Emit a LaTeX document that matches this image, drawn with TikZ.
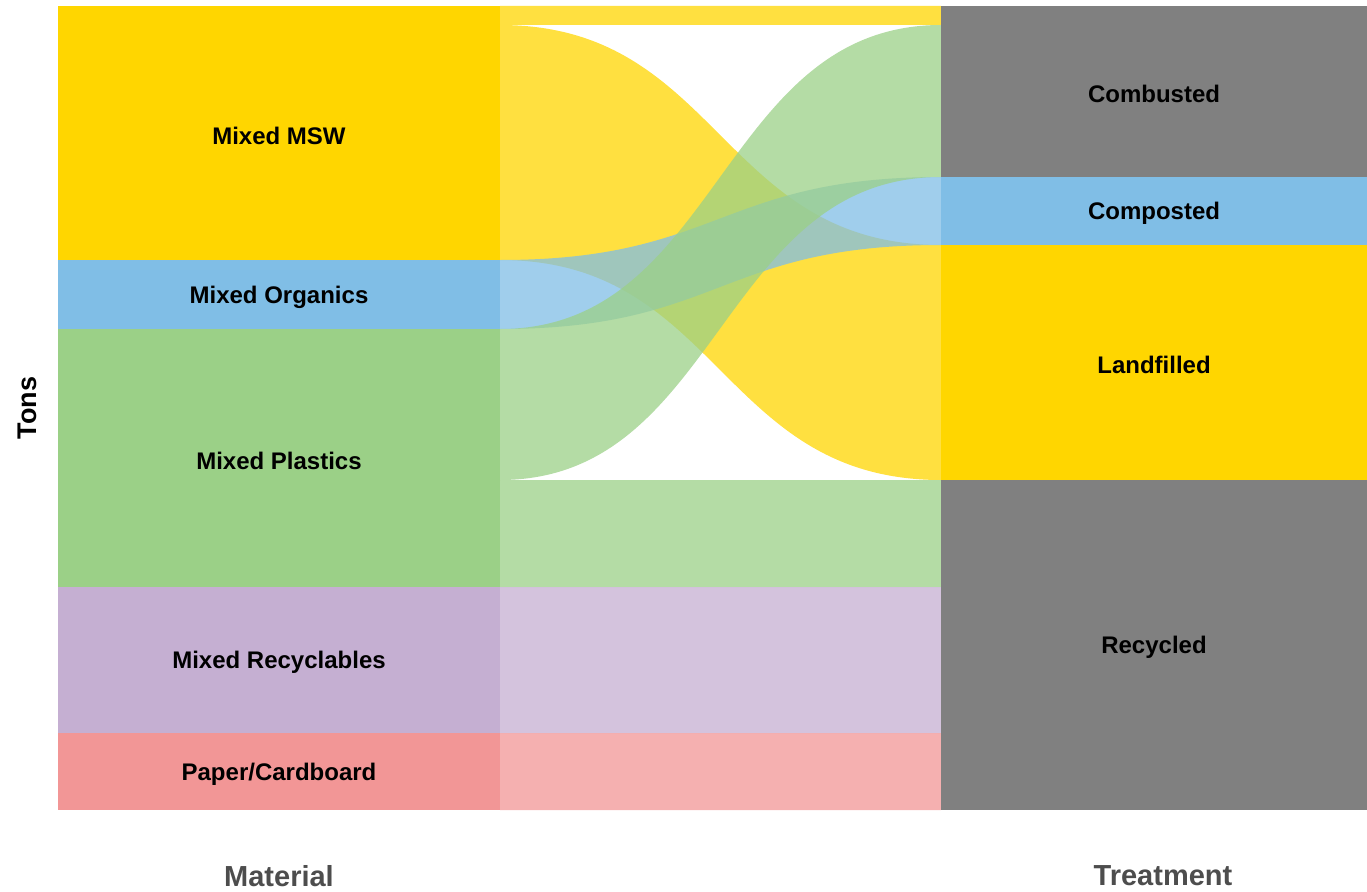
\documentclass[tikz,border=0pt]{standalone}
\usepackage{fontspec}
\setmainfont{Liberation Sans}
\usepackage{tikz}

\definecolor{msw}{RGB}{255,214,0}
\definecolor{organ}{RGB}{128,190,230}
\definecolor{plast}{RGB}{155,208,135}
\definecolor{recyc}{RGB}{197,175,210}
\definecolor{paper}{RGB}{242,150,150}
\definecolor{treat}{RGB}{128,128,128}
\definecolor{axistxt}{RGB}{77,77,77}

\tikzset{
  block/.style={draw=none, inner sep=0pt, minimum width=442pt,
    font=\bfseries\fontsize{24}{28}\selectfont, text=black},
  treatblock/.style={block, minimum width=426pt, fill=treat},
  band/.style={fill opacity=0.75},
  axislabel/.style={font=\bfseries\fontsize{29}{34}\selectfont, text=axistxt}
}

% flow band: colour, left top, left bottom, right top, right bottom
\newcommand{\flowband}[5]{%
  \fill[#1, band] (500,#2) .. controls (720,#2) and (720,#4) .. (941,#4)
    -- (941,#5) .. controls (720,#5) and (720,#3) .. (500,#3) -- cycle;}

\begin{document}
\begin{tikzpicture}[x=1pt, y=-1pt]
        \useasboundingbox (0,0) rectangle (1367,891);

        \flowband{msw}{6}{25}{6}{25}
        \flowband{msw}{25}{260}{245}{480}
        \flowband{organ}{260}{329}{177}{245}
        \flowband{plast}{329}{480}{25}{177}
        \flowband{plast}{480}{587}{480}{587}
        \flowband{recyc}{587}{733}{587}{733}
        \flowband{paper}{733}{810}{733}{810}

        \node[block, fill=msw, minimum height=254pt] (mixmsw) at (279,133) {};
        \node[block, fill=organ, minimum height=69pt] (mixorg) at (279,294.5) {};
        \node[block, fill=plast, minimum height=258pt] (mixpla) at (279,458) {};
        \node[block, fill=recyc, minimum height=146pt] (mixrec) at (279,660) {};
        \node[block, fill=paper, minimum height=77pt] (paper) at (279,771.5) {};

        \node[treatblock, minimum height=171pt] (comb) at (1154,91.5) {};
        \node[block, minimum width=426pt, fill=organ, minimum height=68pt] (comp) at (1154,211) {};
        \node[block, minimum width=426pt, fill=msw, minimum height=235pt] (land) at (1154,362.5) {};
        \node[treatblock, minimum height=330pt] (recy) at (1154,645) {};

        % labels, a little below the block centres
        \node[block, minimum width=0pt, yshift=-2.5pt] at (mixmsw) {Mixed MSW};
        \node[block, minimum width=0pt, yshift=-2.5pt] at (mixorg) {Mixed Organics};
        \node[block, minimum width=0pt, yshift=-2.5pt] at (mixpla) {Mixed Plastics};
        \node[block, minimum width=0pt, yshift=-2.5pt] at (mixrec) {Mixed Recyclables};
        \node[block, minimum width=0pt, yshift=-2.5pt] at (paper) {Paper/Cardboard};
        \node[block, minimum width=0pt, yshift=-2.5pt] at (comb) {Combusted};
        \node[block, minimum width=0pt, yshift=-2.5pt] at (comp) {Composted};
        \node[block, minimum width=0pt, yshift=-2.5pt] at (land) {Landfilled};
        \node[block, minimum width=0pt, yshift=-2.5pt] at (recy) {Recycled};

        \node[axislabel] (matlab) at (279,876) {Material};
        \node[axislabel] (trelab) at (1163,876) {Treatment};
        \node[axislabel, text=black, rotate=90, font=\bfseries\fontsize{27}{32}\selectfont] (tons) at (27,408) {Tons};
\end{tikzpicture}
\end{document}
